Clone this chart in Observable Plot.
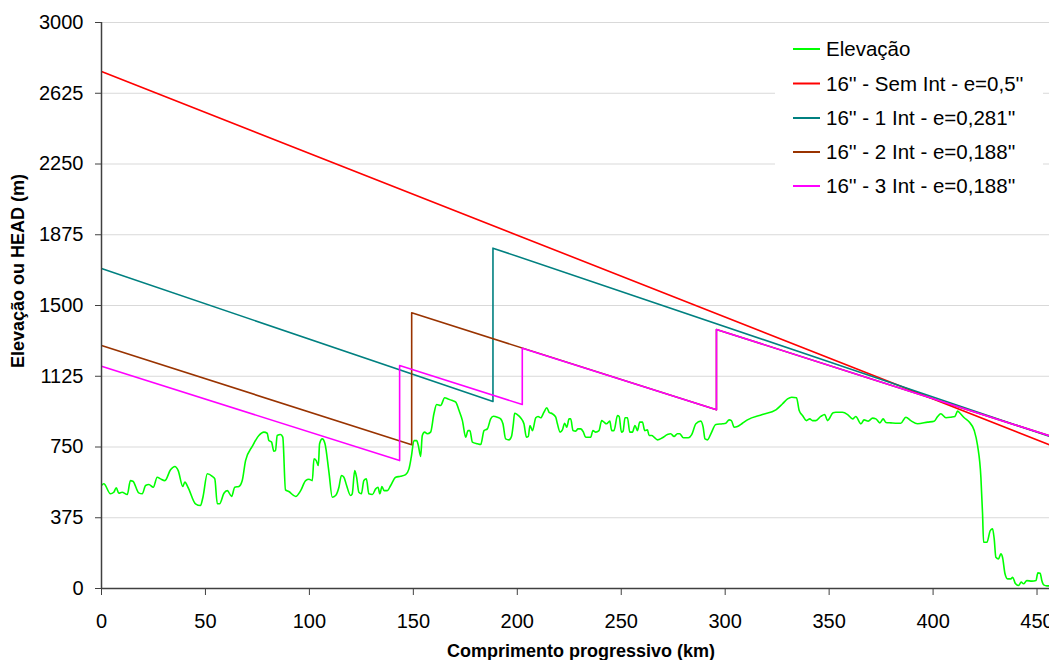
<!DOCTYPE html>
<html>
<head>
<meta charset="utf-8">
<script src="https://cdn.jsdelivr.net/npm/d3@7"></script>
<script src="https://cdn.jsdelivr.net/npm/@observablehq/plot@0.6"></script>
<style>
  html, body { margin: 0; padding: 0; background: #fff; }
  #chart { width: 1049px; height: 660px; overflow: hidden; }
</style>
</head>
<body>
<div id="chart"></div>
<script>
// ---- Data ----
const seriesNames = ["Elevação", "16'' - Sem Int - e=0,5''", "16'' - 1 Int - e=0,281''", "16'' - 2 Int - e=0,188''", "16'' - 3 Int - e=0,188''"];
const seriesColors = ["#00ff00", "#ff0000", "#008080", "#993300", "#ff00ff"];

const xTicks = [0, 50, 100, 150, 200, 250, 300, 350, 400, 450];
const yTicks = [0, 375, 750, 1125, 1500, 1875, 2250, 2625, 3000];

const elevKm = [0,1.1,4.3,5.9,7.1,8.3,9.9,12.4,13.9,15.1,17.9,19.6,21.2,22.8,24.9,26.8,28.4,30.5,33.2,35.3,36.9,39.1,40.1,41.7,45.2,47.6,48.8,50.9,53.3,54.5,55.7,56.8,58.9,60.5,62.6,64.1,66.1,67.7,69.3,72.5,75.7,78.1,79.7,80.5,81.8,82.9,83.7,84.5,86.1,87.2,88.5,90.1,93.4,95.8,98.2,99.8,101.4,102.2,103.3,104.3,104.9,106.2,107.5,109.4,111.0,112.6,114.2,115.4,116.6,117.9,119.8,120.6,121.8,122.7,123.8,125.0,126.2,127.4,128.6,130.3,131.9,133.0,133.9,134.9,135.9,137.5,139.1,141.5,143.9,146.3,147.9,149.0,150.3,151.6,152.4,153.5,154.3,155.4,156.7,158.3,159.9,161.2,163.1,165.1,166.7,168.8,170.4,172.0,173.6,175.2,176.3,177.2,178.4,180.8,182.4,184.0,185.6,187.2,188.5,190.4,192.0,193.1,194.4,196.0,197.2,198.1,198.7,200.0,201.6,203.2,204.4,205.3,206.1,207.3,208.9,210.0,211.3,212.8,214.2,215.3,216.9,218.5,219.3,220.6,221.7,222.8,223.8,224.9,225.7,226.8,228.1,229.2,230.5,231.8,232.9,235.3,236.4,237.7,239.3,240.6,241.7,242.9,244.5,245.4,246.5,248.2,249.0,250.1,250.9,251.8,253.0,254.1,255.4,256.6,257.8,258.9,260.2,261.3,262.6,263.4,264.7,265.8,267.4,269.8,272.2,273.8,275.4,277.0,278.1,279.9,282.3,283.9,285.9,288.3,289.4,290.3,291.5,293.1,295.5,298.7,300.3,301.9,303.0,304.3,305.9,308.3,310.7,317.9,324.4,327.6,330.0,332.0,334.3,335.6,337.2,339.1,340.7,342.0,343.6,346.0,347.9,349.2,351.9,353.2,356.4,358.9,361.3,362.8,365.3,366.8,368.8,370.9,372.5,374.4,376.0,377.3,379.7,382.9,384.5,386.9,389.3,392.5,397.4,400.5,402.2,403.7,406.2,408.6,410.5,411.8,413.0,415.0,417.4,419.8,421.4,423.0,423.8,424.3,425.9,427.5,428.6,429.4,430.2,431.5,432.6,433.4,434.6,435.8,437.4,438.3,439.5,441.1,442.4,443.5,445.1,447.5,449.5,450.4,451.5,452.3,453.2,454.8,456.7];
const elevM = [546,555,502,510,534,505,510,498,572,569,507,502,546,551,537,590,581,572,629,647,625,541,564,534,449,440,484,608,594,581,449,449,505,519,488,537,541,572,678,753,811,829,823,784,776,728,731,811,816,802,523,514,488,519,572,579,572,687,678,652,767,793,767,617,484,493,537,599,590,546,493,502,625,590,510,502,572,581,502,498,528,537,502,541,519,519,546,590,595,604,634,696,784,784,758,700,811,829,820,829,926,975,970,1011,1005,996,988,943,890,802,837,837,776,767,763,837,846,899,913,908,899,873,793,788,806,873,929,922,905,873,802,806,864,837,905,912,905,934,958,934,926,908,873,829,841,876,855,899,899,837,834,846,846,829,802,802,837,829,837,890,882,873,887,837,837,917,912,829,834,905,905,829,829,864,837,882,882,837,841,811,811,802,788,799,816,820,806,820,820,799,799,816,873,887,855,793,788,820,869,873,876,894,890,855,859,876,894,922,947,979,1005,1014,1011,943,917,890,899,890,890,912,922,890,931,934,934,922,899,912,873,894,887,903,899,878,899,880,878,876,876,908,890,873,882,887,912,926,905,908,912,940,929,905,882,837,758,590,396,245,245,307,316,263,166,157,184,166,78,51,51,60,28,16,34,25,42,39,42,83,81,42,19,14,14];

const redKm = [0, 456];
const redHead = [2740, 762];
const tealKm = [0, 188.3, 188.3, 456];
const tealHead = [1696, 991, 1804, 806];
const brownKm = [0, 149.2, 149.2, 295.8, 295.8, 456];
const brownHead = [1288, 762, 1461, 947, 1373, 809];
const magentaKm = [0, 143.4, 143.4, 202.4, 202.4, 295.8, 295.8, 456];
const magentaHead = [1178, 678, 1182, 975, 1274, 947, 1373, 809];

// ---- Build tables ----
const toRows = (xs, ys) => xs.map((x, i) => ({km: x, v: ys[i]}));
const elevRows = toRows(elevKm, elevM);
const headSeries = [
  toRows(redKm, redHead),
  toRows(tealKm, tealHead),
  toRows(brownKm, brownHead),
  toRows(magentaKm, magentaHead)
];

const FONT = "'Liberation Sans', Arial, Helvetica, sans-serif";

const chart = Plot.plot({
  width: 1049,
  height: 660,
  marginLeft: 101,
  marginRight: 0,
  marginTop: 22,
  marginBottom: 72,
  x: {domain: [0, 456]},
  y: {domain: [0, 3000]},
  style: {fontFamily: FONT, fontSize: "20px", color: "#000", background: "#fff", overflow: "visible"},
  marks: [
    Plot.gridY(yTicks, {stroke: "#d9d9d9", strokeOpacity: 1, strokeWidth: 1}),
    Plot.line(elevRows, {x: "km", y: "v", stroke: seriesColors[0], strokeWidth: 1.6, curve: "monotone-x", clip: true}),
    ...headSeries.map((rows, i) =>
      Plot.line(rows, {x: "km", y: "v", stroke: seriesColors[i + 1], strokeWidth: 1.6, clip: true})
    ),
    Plot.ruleX([0], {stroke: "#404040", strokeWidth: 1.5}),
    Plot.ruleY([0], {stroke: "#404040", strokeWidth: 1.5}),
    Plot.axisX(xTicks, {tickSize: 7, tickPadding: 18, label: null, stroke: "#404040", tickFormat: d => String(d)}),
    Plot.axisY(yTicks, {tickSize: 6, tickPadding: 12, label: null, stroke: "#404040", tickFormat: d => String(d)})
  ]
});

document.getElementById("chart").appendChild(chart);

// ---- Axis titles ----
const svg = d3.select(chart);
svg.append("text")
  .attr("x", 581).attr("y", 657)
  .attr("text-anchor", "middle")
  .attr("font-family", FONT).attr("font-weight", "bold").attr("font-size", 18)
  .attr("fill", "#000")
  .text("Comprimento progressivo (km)");
svg.append("text")
  .attr("transform", "translate(24,271) rotate(-90)")
  .attr("text-anchor", "middle")
  .attr("font-family", FONT).attr("font-weight", "bold").attr("font-size", 18)
  .attr("fill", "#000")
  .text("Elevação ou HEAD (m)");

// ---- Legend ----
const lg = svg.append("g").attr("text-anchor", "start");
lg.append("rect").attr("x", 775).attr("y", 30).attr("width", 268).attr("height", 176).attr("fill", "#fff");
const rowY = [49, 83.5, 118, 152, 186];
seriesNames.forEach((name, i) => {
  lg.append("line")
    .attr("x1", 793).attr("x2", 820).attr("y1", rowY[i]).attr("y2", rowY[i])
    .attr("stroke", seriesColors[i]).attr("stroke-width", 2);
  lg.append("text")
    .attr("x", 826).attr("y", rowY[i]).attr("dy", "0.35em")
    .attr("text-anchor", "start")
    .attr("font-family", FONT).attr("font-size", 20.5).attr("fill", "#000")
    .text(name);
});
</script>
</body>
</html>
